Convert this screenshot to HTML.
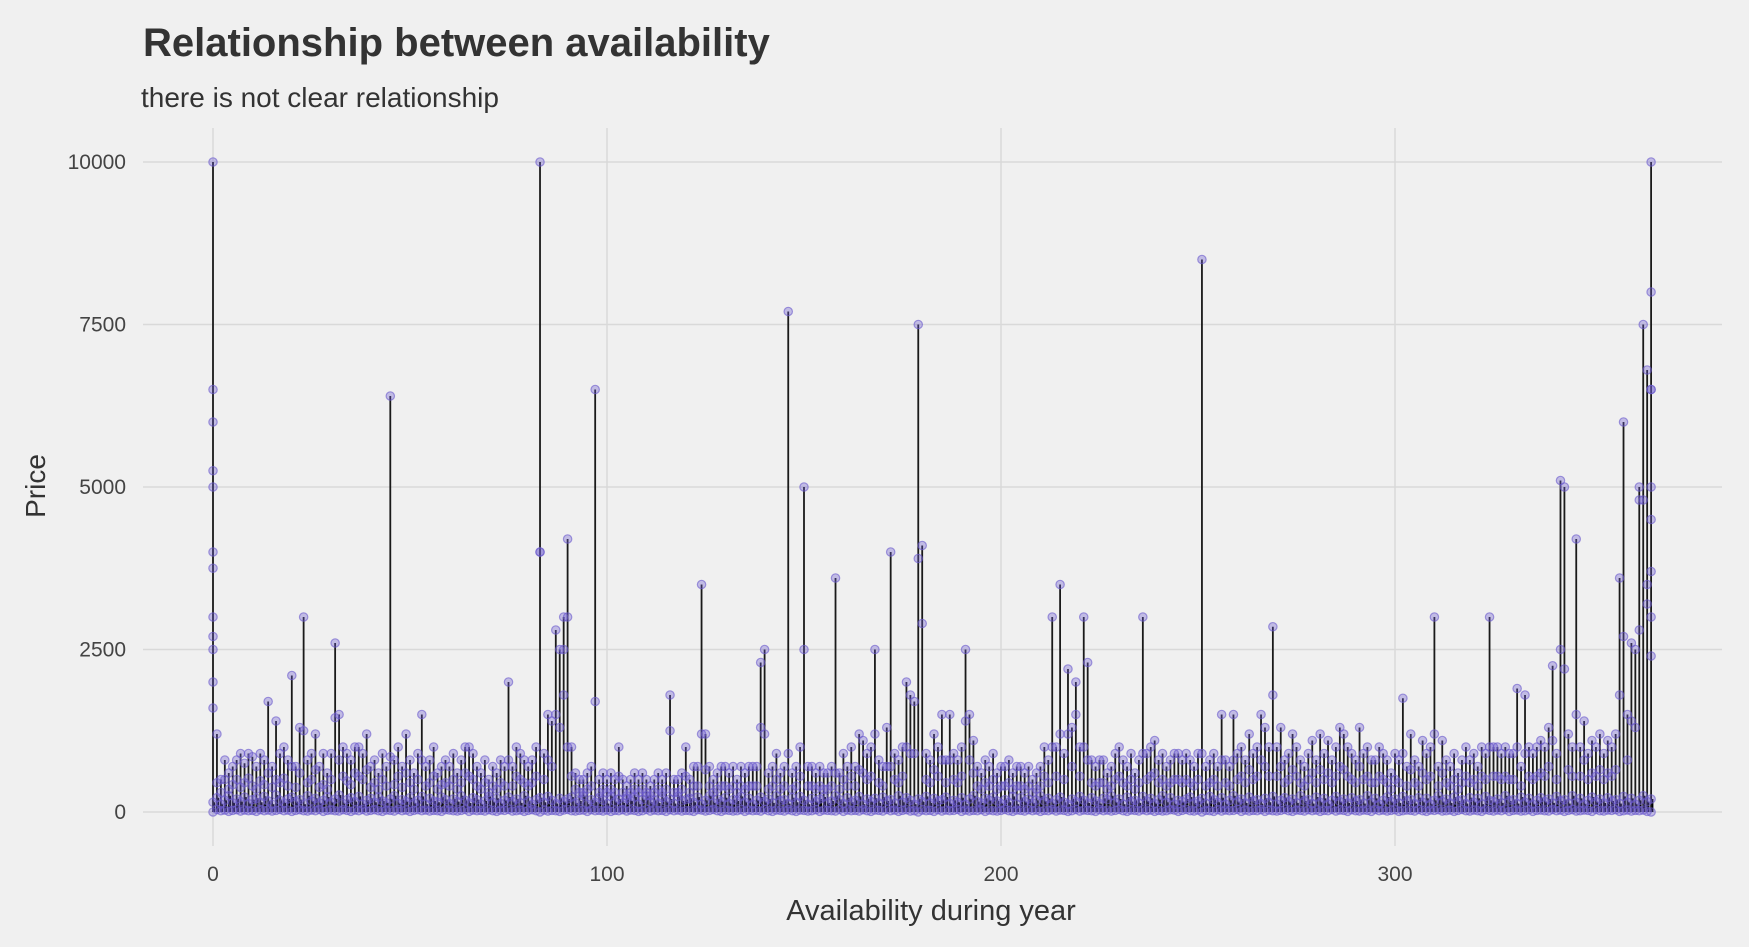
<!DOCTYPE html>
<html><head><meta charset="utf-8"><style>
html,body{margin:0;padding:0;background:#f0f0f0;}
svg{display:block;font-family:"Liberation Sans",sans-serif;}
</style></head><body>
<svg id="chart" width="1749" height="947" viewBox="0 0 1749 947">
<rect width="1749" height="947" fill="#f0f0f0"/>
<text x="143" y="56" font-size="40" font-weight="bold" fill="#333">Relationship between availability</text>
<text x="141" y="107" font-size="28" fill="#333">there is not clear relationship</text>
<g id="grid"></g>
<g id="marks"></g>
<g id="axes"></g>
<text x="931" y="920" font-size="29" fill="#333" text-anchor="middle">Availability during year</text>
<text transform="translate(45,486) rotate(-90)" font-size="28" fill="#333" text-anchor="middle">Price</text>
</svg>
<script>
const xTicks = [0, 100, 200, 300];
const yTicks = [0, 2500, 5000, 7500, 10000];
const maxPrice = [
10000,1200,500,800,600,700,800,900,750,900,
850,700,900,800,1700,700,1400,900,1000,800,
2100,700,1300,3000,800,900,1200,700,900,600,
900,2600,1500,1000,900,800,1000,1000,900,1200,
700,800,600,900,700,6400,800,1000,700,1200,
800,600,900,1500,700,800,1000,600,700,800,
700,900,600,800,1000,1000,900,700,600,800,
500,700,600,800,700,2000,700,1000,900,800,
700,800,1000,10000,900,1500,1400,2800,2500,3000,
4200,1000,600,500,500,600,700,6500,500,600,
500,600,500,1000,500,400,500,600,500,600,
500,400,500,600,500,600,1800,500,500,600,
1000,500,700,700,3500,1200,700,500,600,700,
700,600,700,500,700,600,700,700,700,2300,
2500,600,700,900,600,700,7700,600,700,1000,
5000,700,700,600,700,600,600,700,3600,600,
900,700,1000,700,1200,1100,900,1000,2500,800,
700,1300,4000,900,800,1000,2000,1800,1700,7500,
4100,900,800,1200,1000,1500,800,1500,900,800,
1000,2500,1500,1100,700,600,800,700,900,600,
700,700,800,600,700,700,600,700,500,600,
700,1000,800,3000,1000,3500,900,2200,1300,2000,
1000,3000,2300,800,700,800,800,600,700,900,
1000,800,700,900,600,800,3000,900,1000,1100,
800,900,700,800,900,900,800,900,800,700,
900,8500,700,800,900,700,1500,800,700,1500,
900,1000,800,1200,900,1000,1500,1300,1000,2850,
1000,1300,800,900,1200,1000,800,700,900,1100,
800,1200,900,1100,800,1000,1300,1200,1000,900,
800,1300,900,1000,800,800,1000,900,800,600,
900,800,1750,700,1200,800,700,1100,900,1000,
3000,700,1100,800,700,900,600,800,1000,800,
900,700,1000,900,3000,1000,1000,900,1000,900,
900,1900,700,1800,1000,900,1000,1100,1000,1300,
2250,900,5100,5000,1200,1000,4200,1000,1400,900,
1100,1000,1200,900,1100,1000,1200,3600,6000,1500,
2600,2500,5000,7500,6800,10000];
const midPrice = [
2000,450,300,500,350,420,500,380,450,520,
400,350,480,420,600,380,500,450,520,400,
700,380,600,1250,450,500,650,380,420,350,
500,1450,800,550,480,420,600,550,500,650,
380,450,350,500,400,850,420,550,380,600,
450,350,500,800,400,450,550,350,420,450,
400,500,350,450,600,550,500,400,350,450,
300,400,350,450,400,800,400,550,500,450,
400,450,550,4000,500,800,700,1500,1300,1800,
1000,550,350,300,300,350,400,1700,300,350,
300,350,300,550,300,250,300,350,300,350,
300,250,300,350,300,350,1250,300,300,350,
550,300,400,400,1200,650,400,300,350,400,
400,350,400,300,400,350,400,400,400,1300,
1200,350,400,500,350,400,900,350,400,550,
2500,400,400,350,400,350,350,400,600,350,
500,400,550,400,650,600,500,550,1200,450,
400,700,700,500,450,550,1000,900,900,3900,
2900,500,450,650,550,800,450,800,500,450,
550,1400,800,600,400,350,450,400,500,350,
400,400,450,350,400,400,350,400,300,350,
400,550,450,1000,550,1200,500,1200,700,1500,
550,1000,800,450,400,450,450,350,400,500,
550,450,400,500,350,450,900,500,550,600,
450,500,400,450,500,500,450,500,450,400,
500,900,400,450,500,400,800,450,400,800,
500,550,450,650,500,550,800,700,550,1800,
550,700,450,500,650,550,450,400,500,600,
450,650,500,600,450,550,700,650,550,500,
450,700,500,550,450,450,550,500,450,350,
500,450,900,400,650,450,400,600,500,550,
1200,400,600,450,400,500,350,450,550,450,
500,400,550,500,1000,550,550,500,550,500,
500,1000,400,900,550,500,550,600,550,700,
1100,500,2500,2200,650,550,1500,550,800,500,
600,550,650,500,600,550,650,1800,2700,800,
1400,1300,2800,4800,3500,6500];
const basePrice = [
150,220,120,180,250,140,200,160,230,130,
190,210,150,240,170,120,260,180,140,200,
230,160,190,120,250,170,210,140,180,230,
150,200,260,130,190,220,160,240,120,180,
210,150,230,170,140,200,250,130,190,160,
220,140,180,240,120,210,170,150,230,190,
130,200,160,250,180,140,220,190,120,170,
240,150,210,130,180,230,160,200,140,250,
170,120,190,220,150,240,180,130,210,160,
200,230,140,170,250,120,190,150,220,180,
130,240,160,200,140,210,170,230,120,190,
250,150,180,140,220,160,200,130,240,170,
190,210,150,230,120,180,250,140,200,160,
220,130,190,170,240,150,210,120,180,230,
160,200,140,250,170,190,130,220,150,240,
180,120,210,160,200,230,140,170,250,190,
130,220,150,180,240,120,200,160,210,140,
230,170,190,130,250,150,220,180,120,200,
160,240,140,210,170,190,230,130,180,150,
220,120,200,250,160,140,210,180,230,170,
130,190,150,240,120,220,160,200,140,180,
250,170,210,130,190,230,150,120,200,160,
240,180,140,220,170,130,210,190,250,150,
200,120,230,160,180,140,240,170,210,130,
190,250,150,220,120,180,160,200,230,140,
170,210,130,240,190,150,220,120,180,250,
160,200,140,230,170,190,130,210,150,240,
120,180,220,160,200,140,250,170,190,130,
230,150,210,120,180,240,160,200,140,220,
170,190,130,250,150,210,120,180,230,160,
200,140,240,170,190,130,220,150,210,120,
180,250,160,200,140,230,170,190,130,220,
150,210,120,240,180,160,200,140,250,170,
190,130,230,150,210,120,180,220,160,200,
140,240,170,190,130,250,150,210,120,180,
230,160,200,140,220,170,190,130,240,150,
210,120,180,250,160,200];
const lowPrice = [
0,40,20,30,10,25,35,15,30,20,
25,10,35,20,30,15,25,40,20,30,
10,25,35,20,15,30,20,40,10,25,
30,20,15,35,25,10,30,20,40,15,
25,35,20,10,30,25,15,40,20,30,
10,25,35,20,30,15,25,20,10,35,
30,20,15,25,40,10,30,20,25,15,
35,20,10,30,25,40,15,20,30,10,
25,35,20,0,30,15,25,20,10,30,
40,20,15,25,30,10,35,20,25,15,
30,10,25,20,35,15,30,25,10,20,
40,15,30,20,25,10,35,20,30,15,
25,20,10,35,30,15,25,40,20,10,
30,25,15,20,35,10,30,20,25,15,
40,20,10,30,25,15,35,20,10,30,
25,15,20,35,10,30,25,20,15,40,
10,30,20,25,15,35,20,10,30,25,
15,40,20,30,10,25,35,15,20,0,
30,20,25,10,35,15,30,20,25,40,
10,30,15,25,20,35,10,30,20,15,
25,40,20,10,30,25,15,35,20,30,
10,25,20,35,15,30,25,10,20,40,
15,30,25,20,10,35,20,30,15,25,
40,20,10,30,25,15,35,20,30,10,
25,15,20,35,30,10,25,40,20,15,
30,0,25,20,10,35,15,30,20,25,
40,10,30,15,25,20,35,10,30,20,
15,25,40,20,10,30,25,15,35,20,
30,10,25,20,40,15,30,25,10,35,
20,15,30,25,10,40,20,30,15,25,
35,10,20,30,25,15,40,20,10,30,
25,35,15,20,30,10,25,40,20,15,
30,20,10,35,25,15,30,20,40,10,
25,30,15,20,35,10,25,30,20,15,
40,20,30,10,25,35,15,20,30,25,
10,40,20,15,30,25,35,10,20,30,
15,25,20,30,10,0];
const extraX = [0,0,0,0,0,0,0,0,0,0,83,89,90,365,365,365,365,365,365,365,362,364];
const extraY = [6500,6000,5250,5000,4000,3750,3000,2700,2500,1600,4000,2500,3000,8000,6500,5000,4500,3700,3000,2400,4800,3200];

const X0 = 213, XK = 3.94, Y0 = 812, YK = 650/10000;
const xScale = v => X0 + v * XK;
const yScale = v => Y0 - v * YK;
const NS = "http://www.w3.org/2000/svg";
const grid = document.getElementById('grid');
const marks = document.getElementById('marks');
const axes = document.getElementById('axes');
function mk(tag, attrs, parent) {
  const e = document.createElementNS(NS, tag);
  for (const k in attrs) e.setAttribute(k, attrs[k]);
  parent.appendChild(e);
  return e;
}
xTicks.forEach(t => {
  const l = mk('line', {x1: xScale(t), x2: xScale(t), y1: 128, y2: 846, stroke: '#d9d9d9', 'stroke-width': 1.5}, grid);
  
  
  const tx = mk('text', {x: xScale(t), y: 881, 'font-size': 21, fill: '#444', 'text-anchor': 'middle'}, axes);
  tx.textContent = t;
  
  
});
yTicks.forEach(t => {
  const l = mk('line', {x1: 143, x2: 1722, y1: yScale(t), y2: yScale(t), stroke: '#d9d9d9', 'stroke-width': 1.5}, grid);
  
  
  const tx = mk('text', {x: 126, y: yScale(t) + 7, 'font-size': 21, fill: '#444', 'text-anchor': 'end'}, axes);
  tx.textContent = t;
  
  
});
const PF = 'rgba(106,90,205,0.35)', PS = 'rgba(106,90,205,0.6)';
maxPrice.forEach((p, i) => {
  const s = mk('line', {x1: xScale(i), x2: xScale(i), y1: yScale(0), y2: yScale(p), stroke: '#1a1a1a', 'stroke-width': 1.8}, marks);
  
  
});
basePrice.forEach((p, i) => {
  const s = mk('line', {x1: xScale(i) + 1.5, x2: xScale(i) + 1.5, y1: yScale(0), y2: yScale(p), stroke: '#000', 'stroke-width': 1.6}, marks);
  
  
});
function pt(x, y) {
  const c = mk('circle', {cx: xScale(x), cy: yScale(y), r: 4.2, fill: PF, stroke: PS, 'stroke-width': 1.2}, marks);
  
  
}
lowPrice.forEach((p, i) => pt(i, p));
basePrice.forEach((p, i) => pt(i, p));
midPrice.forEach((p, i) => pt(i, p));
maxPrice.forEach((p, i) => pt(i, p));
extraX.forEach((x, i) => pt(x, extraY[i]));
</script>
</body></html>
